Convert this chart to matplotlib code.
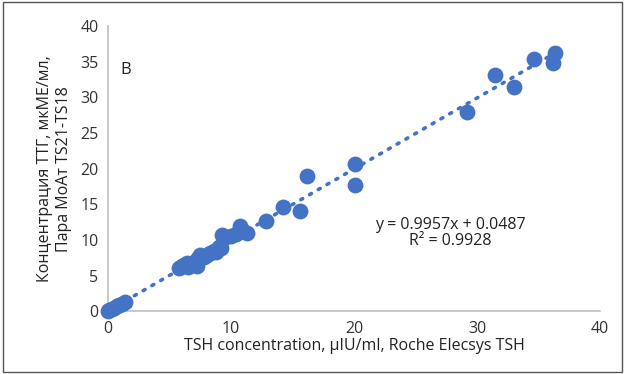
import numpy as np
import matplotlib.pyplot as plt
from matplotlib.patches import Rectangle

# Roche Elecsys TSH (x) vs МоАт TS21-TS18 (y)
tsh_roche = [0.0, 0.1, 0.3, 0.5, 0.7, 0.9, 1.1, 1.4,
             5.8, 6.0, 6.2, 6.4, 6.5, 6.8, 7.0, 7.2, 7.3, 7.5, 7.8, 8.0,
             8.3, 8.6, 8.8, 9.0, 9.2, 9.3, 9.6, 10.0, 10.4, 10.7, 11.0, 11.3,
             12.8, 14.2, 15.6, 16.2, 20.1, 20.1,
             29.2, 31.5, 33.0, 34.6, 36.2, 36.3]
tsh_moat = [0.0, 0.1, 0.3, 0.5, 0.7, 0.9, 1.0, 1.3,
            6.0, 6.3, 6.5, 6.7, 6.2, 6.5, 6.9, 6.3, 7.5, 7.9, 7.6, 7.9,
            8.1, 8.5, 8.3, 9.0, 8.8, 10.7, 10.4, 10.5, 10.8, 11.9, 11.2, 11.0,
            12.7, 14.6, 14.1, 19.0, 20.7, 17.7,
            28.0, 33.2, 31.5, 35.4, 34.8, 36.2]

slope, intercept, r2 = 0.9957, 0.0487, 0.9928
blue = '#4472C4'

plt.rcParams['font.family'] = ['Open Sans', 'DejaVu Sans']
fig = plt.figure(figsize=(6.25, 3.74), dpi=100)
ax = fig.add_axes([0.173, 0.168, 0.787, 0.762])

ax.scatter(tsh_roche, tsh_moat, s=130, color=blue, zorder=3, linewidths=0,
           clip_on=False)

xs = np.array([min(tsh_roche), max(tsh_roche)])
ax.plot(xs, slope * xs + intercept, linestyle=(0, (0.6, 2.2)), color=blue,
        linewidth=2.6, dash_capstyle='round', zorder=2)

ax.set_xlim(0, 40)
ax.set_ylim(0, 40)
ax.set_xticks(range(0, 41, 10))
ax.set_yticks(range(0, 41, 5))
ax.tick_params(length=0, labelsize=11.5, colors='#333333', pad=7)
for s in ['top', 'right']:
    ax.spines[s].set_visible(False)
for s in ['left', 'bottom']:
    ax.spines[s].set_color('#BFBFBF')
    ax.spines[s].set_linewidth(1.2)

ax.set_xlabel('TSH concentration, µIU/ml, Roche Elecsys TSH', fontsize=11.5,
              color='#222222', labelpad=1)
ax.set_ylabel('Концентрация ТТГ, мкМЕ/мл,\nПара МоАт TS21-TS18', fontsize=11.5,
              color='#222222', labelpad=6)

ax.text(1.0, 33.8, 'B', fontsize=12, color='#222222', va='center')
ax.text(27.8, 11.0, f'y = {slope}x + {intercept}\nR² = {r2}', fontsize=11.5,
        ha='center', va='center', color='#222222', linespacing=1.0)

fig.patches.append(Rectangle((0.005, 0.005), 0.99, 0.99, transform=fig.transFigure,
                             fill=False, edgecolor='#555555', linewidth=1))

fig.savefig('out.png', dpi=100)
